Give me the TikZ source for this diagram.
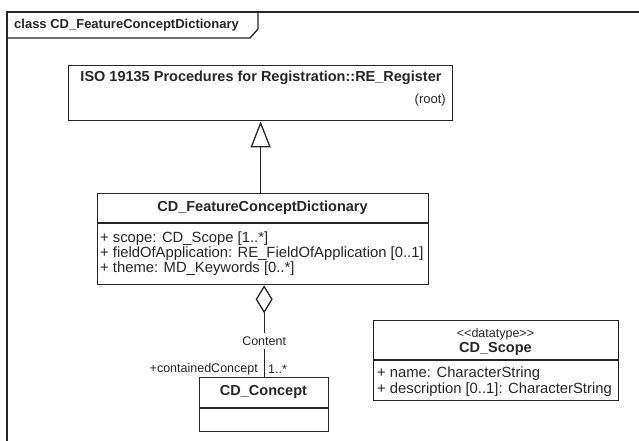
\documentclass[tikz,border=0pt]{standalone}
\usepackage{fontspec}
\setmainfont{Liberation Sans}
\usetikzlibrary{arrows.meta}
\definecolor{ink}{HTML}{262626}
\tikzset{
  umlbox/.style={draw=ink, line width=1.3pt, rectangle, inner sep=0pt, anchor=north west},
  cname/.style={font=\bfseries\fontsize{14.5}{16}\selectfont, text=ink, inner sep=0pt},
  attr/.style={font=\fontsize{14.8}{16}\selectfont, text=ink, inner sep=0pt, anchor=west},
  small/.style={font=\fontsize{12.5}{14}\selectfont, text=ink, inner sep=0pt},
  wire/.style={draw=ink, line width=1.3pt},
  gen/.style={wire, -{Triangle[open, length=26pt, width=20pt, fill=white]}},
  agg/.style={wire, -{Diamond[open, length=28pt, width=17pt, fill=white]}},
}
\begin{document}
\begin{tikzpicture}[x=1pt, y=-1pt]
\useasboundingbox[fill=white] (0,0) rectangle (639,441);

% diagram frame and its name tab
\draw[wire] (7,441) -- (7,12) -- (639,12);
\draw[wire] (7,38) -- (250,38) -- (258,29) -- (258,12);
\node[font=\bfseries\fontsize{13}{15}\selectfont, text=ink, inner sep=0pt, anchor=west] (frametitle) at (14,25) {class CD\_FeatureConceptDictionary};

% RE_Register
\node[umlbox, minimum width=384pt, minimum height=55pt] (reg) at (68,65) {};
\node[cname] (regname) at (261,78) {ISO 19135 Procedures for Registration::RE\_Register};
\node[small, anchor=east, font=\fontsize{13}{14}\selectfont] (regroot) at (446,100) {(root)};

% CD_FeatureConceptDictionary
\node[umlbox, minimum width=331pt, minimum height=91pt] (fcd) at (97,193) {};
\draw[wire] (fcd.west |- 0,223) -- (fcd.east |- 0,223);
\node[cname] (fcdname) at (262.5,208) {CD\_FeatureConceptDictionary};
\node[attr] (fcda1) at (100,239) {+ scope: CD\_Scope [1..*]};
\node[attr] (fcda2) at (100,254) {+ fieldOfApplication: RE\_FieldOfApplication [0..1]};
\node[attr] (fcda3) at (100,269) {+ theme: MD\_Keywords [0..*]};

% CD_Concept
\node[umlbox, minimum width=129pt, minimum height=54pt] (concept) at (199,377) {};
\draw[wire] (concept.west |- 0,408) -- (concept.east |- 0,408);
\node[cname] (conceptname) at (263.5,392) {CD\_Concept};

% CD_Scope
\node[umlbox, minimum width=245pt, minimum height=80pt] (scope) at (373,320) {};
\draw[wire] (scope.west |- 0,360) -- (scope.east |- 0,360);
\node[small] (scopestereo) at (495.5,334) {<\kern0pt<datatype>\kern0pt>};
\node[cname] (scopename) at (495.5,349) {CD\_Scope};
\node[attr] (scopea1) at (377,374) {+ name: CharacterString};
\node[attr] (scopea2) at (377,390) {+ description [0..1]: CharacterString};

% generalization
\draw[gen] (reg.south |- fcd.north) -- (reg.south);

% aggregation "Content"
\node[small, inner sep=3pt] (content) at (concept.north |- 0,341) {Content};
\draw[agg] (content.north) -- (content.north |- fcd.south);
\draw[wire] (content.south) -- (concept.north);
\node[small, anchor=east] (rolename) at (258,369) {+containedConcept};
\node[small, anchor=west] (mult) at (268,369) {1..*};
\end{tikzpicture}
\end{document}
